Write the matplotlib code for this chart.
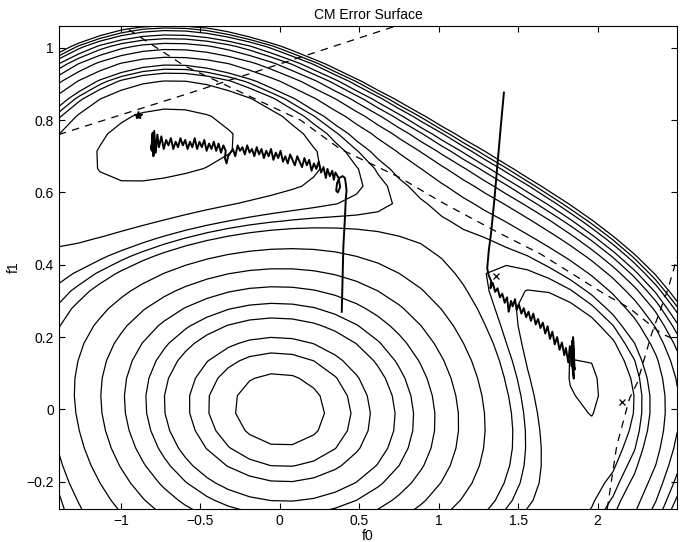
import numpy as np
import matplotlib
matplotlib.use("Agg")
import matplotlib.pyplot as plt

plt.rcParams['font.family'] = ['Liberation Sans', 'DejaVu Sans']

# ---- CM cost model: q = H f, J = 3(f'Rf)^2 - 2 sum q^4 - 2 f'Rf + 1
h_row0 = [0.0088, -0.0886]
h_row1 = [-0.0832, 0.8391]
h_row2 = [0.2790, 0.1426]
r_diag = [0.1216, 0.9875]
r_off = 0.0242
levels = [0.451, 0.542, 0.585, 0.607, 0.630, 0.686, 0.745, 0.798, 0.844, 0.881,
          0.924, 0.952, 0.980]

f0_grid = np.linspace(-1.4, 2.5, 30)
f1_grid = np.linspace(-0.3, 1.1, 30)

# ---- trajectories
traj1_f0 = [0.39, 0.395, 0.40, 0.41, 0.415, 0.42, 0.415, 0.41, 0.395, 0.375, 0.36, 0.355,
            0.365, 0.38, 0.37, 0.35, 0.34, 0.33, 0.315, 0.30, 0.29, 0.275, 0.26, 0.245,
            0.23, 0.215, 0.20, 0.185, 0.17, 0.155, 0.14, 0.125, 0.11, 0.095, 0.08, 0.065,
            0.05, 0.035, 0.02, 0.005, -0.01, -0.025, -0.04, -0.055, -0.07, -0.085, -0.10,
            -0.115, -0.13, -0.145, -0.16, -0.175, -0.19, -0.205, -0.22, -0.235, -0.25,
            -0.265, -0.28, -0.295, -0.31, -0.325, -0.335, -0.345, -0.34, -0.355, -0.37,
            -0.385, -0.40, -0.415, -0.43, -0.445, -0.46, -0.475, -0.49, -0.505, -0.52,
            -0.535, -0.55, -0.565, -0.58, -0.595, -0.61, -0.625, -0.64, -0.655, -0.67,
            -0.685, -0.70, -0.715, -0.73, -0.745, -0.76, -0.77, -0.78, -0.79, -0.795,
            -0.80, -0.795, -0.80, -0.805, -0.80, -0.81, -0.80]
traj1_f1 = [0.27, 0.36, 0.45, 0.53, 0.58, 0.605, 0.625, 0.64, 0.645, 0.64, 0.625, 0.605,
            0.60, 0.615, 0.64, 0.655, 0.635, 0.66, 0.645, 0.665, 0.64, 0.67, 0.655, 0.685,
            0.665, 0.68, 0.66, 0.69, 0.675, 0.695, 0.67, 0.685, 0.70, 0.675, 0.69, 0.705,
            0.68, 0.70, 0.685, 0.715, 0.695, 0.71, 0.69, 0.72, 0.70, 0.715, 0.695, 0.72,
            0.705, 0.725, 0.70, 0.72, 0.71, 0.73, 0.705, 0.725, 0.715, 0.73, 0.70, 0.72,
            0.71, 0.70, 0.68, 0.695, 0.715, 0.73, 0.71, 0.735, 0.715, 0.74, 0.72, 0.735,
            0.715, 0.745, 0.725, 0.74, 0.72, 0.75, 0.725, 0.74, 0.72, 0.745, 0.73, 0.75,
            0.725, 0.74, 0.72, 0.75, 0.73, 0.745, 0.72, 0.755, 0.725, 0.76, 0.71, 0.77,
            0.705, 0.765, 0.70, 0.76, 0.715, 0.755, 0.72, 0.74]

traj2_f0 = [1.41, 1.39, 1.37, 1.35, 1.33, 1.315, 1.31, 1.305, 1.315, 1.33, 1.325, 1.34,
            1.355, 1.37, 1.385, 1.40, 1.415, 1.43, 1.44, 1.455, 1.465, 1.48, 1.49, 1.505,
            1.52, 1.535, 1.55, 1.565, 1.58, 1.595, 1.61, 1.625, 1.64, 1.655, 1.67, 1.685,
            1.70, 1.715, 1.73, 1.745, 1.76, 1.775, 1.79, 1.80, 1.815, 1.825, 1.835, 1.84,
            1.845, 1.835, 1.85, 1.84, 1.855, 1.845, 1.85]
traj2_f1 = [0.876, 0.78, 0.68, 0.58, 0.49, 0.44, 0.415, 0.39, 0.37, 0.355, 0.335, 0.35,
            0.325, 0.335, 0.31, 0.32, 0.295, 0.31, 0.27, 0.30, 0.285, 0.305, 0.275, 0.29,
            0.265, 0.28, 0.255, 0.27, 0.245, 0.265, 0.235, 0.25, 0.225, 0.24, 0.21, 0.23,
            0.195, 0.215, 0.18, 0.20, 0.165, 0.185, 0.15, 0.17, 0.13, 0.175, 0.12, 0.19,
            0.10, 0.16, 0.085, 0.15, 0.11, 0.20, 0.12]

# ---- dashed curves
dash1_f0 = [-1.39, -0.60, 0.00, 0.73]
dash1_f1 = [0.76, 0.87, 0.955, 1.06]
dash2_f0 = [-0.95, -0.60, 0.13, 0.38, 0.76, 1.01, 1.37, 1.64, 2.04, 2.20, 2.40, 2.50]
dash2_f1 = [1.05, 0.95, 0.80, 0.72, 0.64, 0.575, 0.49, 0.43, 0.32, 0.28, 0.21, 0.19]
dash3_f0 = [2.06, 2.12, 2.20, 2.25, 2.34, 2.44, 2.50]
dash3_f1 = [-0.275, -0.10, 0.03, 0.075, 0.21, 0.33, 0.42]

star_f0 = [-0.89]
star_f1 = [0.815]
cross_f0 = [1.36, 2.15]
cross_f1 = [0.368, 0.02]

xticks = [-1, -0.5, 0, 0.5, 1, 1.5, 2]
xticklabels = ['\u22121', '\u22120.5', '0', '0.5', '1', '1.5', '2']
yticks = [-0.2, 0, 0.2, 0.4, 0.6, 0.8, 1]
yticklabels = ['\u22120.2', '0', '0.2', '0.4', '0.6', '0.8', '1']

# ---- surface
H = np.array([h_row0, h_row1, h_row2])
R = np.array([[r_diag[0], r_off], [r_off, r_diag[1]]])
F0, F1 = np.meshgrid(f0_grid, f1_grid)
Q = [H[i, 0] * F0 + H[i, 1] * F1 for i in range(3)]
N2 = R[0, 0] * F0**2 + 2 * R[0, 1] * F0 * F1 + R[1, 1] * F1**2
J = 3 * N2**2 - 2 * sum(q**4 for q in Q) - 2 * N2 + 1

fig = plt.figure(figsize=(6.84, 5.42), dpi=100)
ax = fig.add_axes([0.086, 0.061, 0.904, 0.891])
ax.contour(F0, F1, J, levels=levels, colors='k', linewidths=0.9)
ax.plot(traj1_f0, traj1_f1, 'k-', lw=1.4)
ax.plot(traj2_f0, traj2_f1, 'k-', lw=1.4)
for xs, ys in ((dash1_f0, dash1_f1), (dash2_f0, dash2_f1), (dash3_f0, dash3_f1)):
    ax.plot(xs, ys, 'k-', lw=0.9, dashes=(6, 5))
ax.plot(star_f0, star_f1, 'k*', ms=6, ls='none')
ax.plot(cross_f0, cross_f1, 'kx', ms=5, mew=0.9, ls='none')

ax.set_xlim(-1.39, 2.5)
ax.set_ylim(-0.275, 1.06)
ax.set_xticks(xticks)
ax.set_xticklabels(xticklabels)
ax.set_yticks(yticks)
ax.set_yticklabels(yticklabels)
ax.tick_params(direction='in', length=4, labelsize=10, top=True, right=True,
               labeltop=False, labelright=False)
ax.set_title('CM Error Surface', fontsize=10, pad=5)
ax.set_xlabel('f0', fontsize=10, labelpad=1)
ax.set_ylabel('f1', fontsize=10, labelpad=4)
fig.savefig('out.png', dpi=100)
